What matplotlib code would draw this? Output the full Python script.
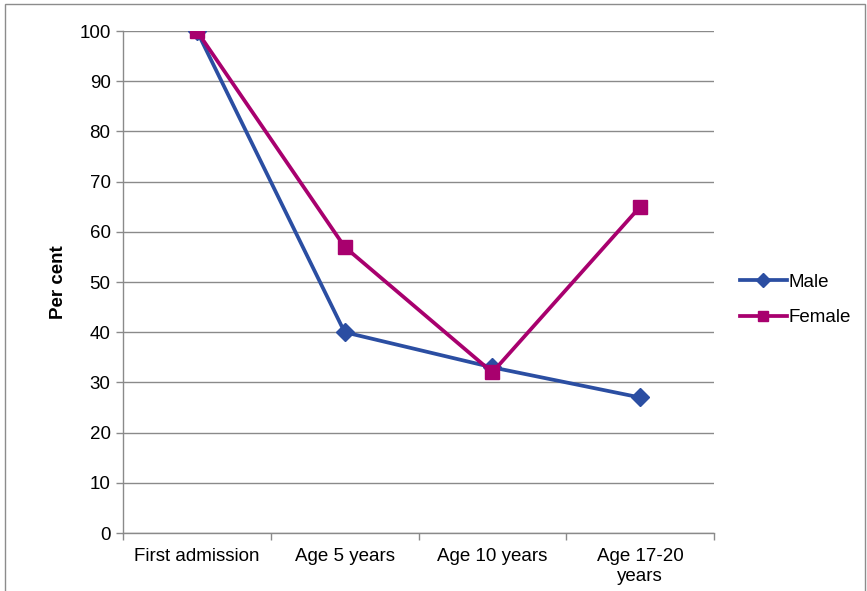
import matplotlib
matplotlib.use("Agg")
import matplotlib.pyplot as plt
from matplotlib.patches import Rectangle

categories = ["First admission", "Age 5 years", "Age 10 years", "Age 17-20\nyears"]
male = [100, 40, 33, 27]
female = [100, 57, 32, 65]
y_ticks = list(range(0, 101, 10))

plt.rcParams["font.family"] = ["Liberation Sans", "DejaVu Sans"]
FS = 13.5

fig = plt.figure(figsize=(8.67, 5.91), dpi=100)
ax = fig.add_axes([0.1419, 0.0981, 0.6816, 0.8494])

# outer chart frame
fig.patches.append(Rectangle((5 / 867, -0.05), 860 / 867, 1.05 - 4 / 591,
                             transform=fig.transFigure, fill=False,
                             edgecolor="#8c8c8c", linewidth=1.0))

grid_c = "#8a8a8a"
x = list(range(len(categories)))
ax.plot(x, male, color="#2B4EA2", linewidth=2.7, marker="D", markersize=9.5,
        label="Male", zorder=3)
ax.plot(x, female, color="#A8006E", linewidth=2.7, marker="s", markersize=10.5,
        label="Female", zorder=3)

ax.set_xlim(-0.5, len(categories) - 0.5)
ax.set_ylim(0, 100)
ax.set_yticks(y_ticks)
ax.yaxis.grid(True, color=grid_c, linewidth=1.0)
ax.set_axisbelow(True)

# category labels centred, tick marks on category boundaries
ax.set_xticks([i - 0.5 for i in range(len(categories) + 1)])
ax.set_xticklabels([])
ax.set_xticks(x, minor=True)
ax.set_xticklabels(categories, minor=True, fontsize=FS)
ax.tick_params(axis="x", which="minor", length=0, pad=11)
ax.tick_params(axis="x", which="major", length=5, color=grid_c, width=1.0)
ax.tick_params(axis="y", length=5, color=grid_c, width=1.0, labelsize=FS, pad=4)

for s in ["top", "right"]:
    ax.spines[s].set_visible(False)
for s in ["left", "bottom"]:
    ax.spines[s].set_color(grid_c)
    ax.spines[s].set_linewidth(1.0)

ax.set_ylabel("Per cent", fontsize=FS, fontweight="bold", labelpad=9)

ax.legend(loc="center left", bbox_to_anchor=(853 / 867, 1 - 300 / 591),
          bbox_transform=fig.transFigure, frameon=False, borderaxespad=0,
          borderpad=0, fontsize=FS, handlelength=2.5, handletextpad=0.1,
          labelspacing=1.0, markerscale=0.75)
leg = ax.get_legend()
leg.set_bbox_to_anchor((740 / 867, 1 - 300 / 591), transform=fig.transFigure)

fig.savefig("out.png", dpi=100)
